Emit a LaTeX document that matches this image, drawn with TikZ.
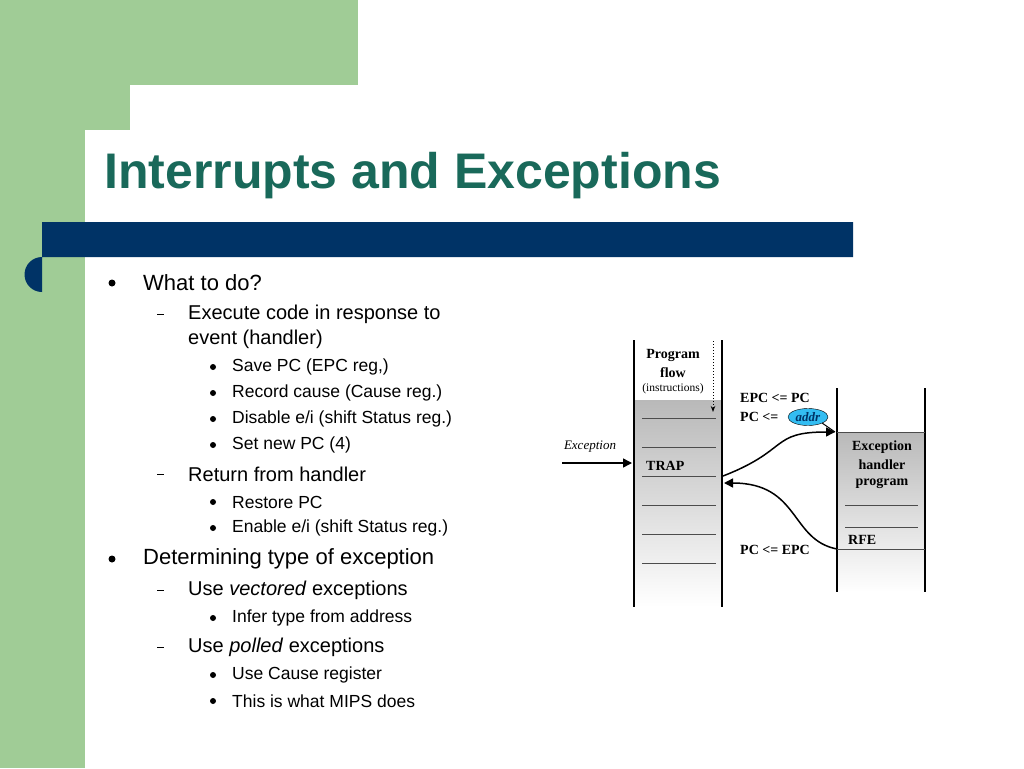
\documentclass[tikz,border=0pt]{standalone}
\usepackage{fontspec}
\setmainfont{Liberation Sans}
\newfontfamily\diag{Liberation Serif}
\usetikzlibrary{arrows.meta,shapes.geometric}
\definecolor{grn}{RGB}{160,204,150}
\definecolor{ttl}{RGB}{25,105,90}
\definecolor{bar}{RGB}{0,51,102}
\begin{document}
\begin{tikzpicture}[x=1pt,y=-1pt,
 l1/.style={anchor=west,font=\fontsize{22}{24}\selectfont,inner sep=0},
 l2/.style={anchor=west,font=\fontsize{20}{22}\selectfont,inner sep=0},
 l3/.style={anchor=west,font=\fontsize{17.5}{20}\selectfont,inner sep=0},
 dg/.style={font=\diag\bfseries\fontsize{14}{15}\selectfont,inner sep=0},
 hl/.style={line width=0.8pt,gray!60!black},
 col/.style={line width=1.5pt},
 arr/.style={line width=1.5pt,-{Triangle[length=9pt,width=9pt]}}]
\useasboundingbox (0,0) rectangle (1024,768);
\fill[white] (0,0) rectangle (1024,768);
\fill[grn] (0,0) rectangle (358,85);
\fill[grn] (0,0) rectangle (85,768);
\fill[grn] (85,85) rectangle (130,130);
\fill[white] (85,130) arc[start angle=180,end angle=90,radius=45] -- (130,130) -- cycle;
\fill[white] (85,130) rectangle (130,768);
\node[anchor=base west,inner sep=0,text=ttl,font=\bfseries\fontsize{50}{52}\selectfont] (title) at (104,188) {Interrupts and Exceptions};
\fill[bar] (42,222) -- (853,222) -- (853,257) -- (42,257) arc[start angle=270,end angle=90,radius=17.5] -- cycle;
% bullets
\foreach \y in {283,559} \fill (112,\y) circle (3.5);
\foreach \y in {314,474,590,647} \draw[line width=0.6pt] (157,\y) -- (164,\y);
\foreach \y in {367,393,419,445,502,528,618,675,701} \fill (213,\y) circle (3);
\node[l1] (a) at (143,283) {What to do?};
\node[l2] (b) at (188,314) {Execute code in response to};
\node[l2] (b2) at (188,339) {event (handler)};
\node[l3] (c1) at (232,367) {Save PC (EPC reg,)};
\node[l3] (c2) at (232,393) {Record cause (Cause reg.)};
\node[l3] (c3) at (232,419) {Disable e/i (shift Status reg.)};
\node[l3] (c4) at (232,445) {Set new PC (4)};
\node[l2] (d) at (188,474) {Return from handler};
\node[l3] (d1) at (232,502) {Restore PC};
\node[l3] (d2) at (232,528) {Enable e/i (shift Status reg.)};
\node[l1] (e) at (143,559) {Determining type of exception};
\node[l2] (f) at (188,590) {Use \textit{vectored} exceptions};
\node[l3] (f1) at (232,618) {Infer type from address};
\node[l2] (g) at (188,647) {Use \textit{polled} exceptions};
\node[l3] (g1) at (232,675) {Use Cause register};
\node[l3] (g2) at (232,701) {This is what MIPS does};
% diagram
\shade[top color=gray!55,bottom color=white] (634,400) rectangle (722,607);
\shade[top color=gray!55,bottom color=white] (837,432) rectangle (925,592);
\draw[col] (634,340) -- (634,607);
\draw[col] (722,340) -- (722,607);
\draw[col] (837,388) -- (837,592);
\draw[col] (925,388) -- (925,592);
\foreach \y in {418,447,476,505,534,563} \draw[hl] (642,\y) -- (716,\y);
\draw[hl] (837,432) -- (925,432);
\draw[hl] (837,549) -- (925,549);
\draw[hl] (845,505) -- (918,505);
\draw[hl] (845,527) -- (918,527);
\node[dg] (pf1) at (673,355) {Program};
\node[dg] (pf2) at (673,373) {flow};
\node[font=\diag\fontsize{11.5}{12}\selectfont,inner sep=0] (pf3) at (673,389) {(instructions)};
\coordinate (dt) at (713,341);
\coordinate (db) at (713,412);
\draw[line width=1pt,dotted,-{Stealth[length=6pt]}] (dt) -- (db);
\node[font=\diag\itshape\fontsize{13}{14}\selectfont,inner sep=0] (exc) at (590,447) {Exception};
\coordinate (es) at (562,463);
\coordinate (ee) at (632,463);
\draw[arr] (es) -- (ee);
\node[dg,anchor=west] (trap) at (646,466) {TRAP};
\node[dg,anchor=west] (epc) at (740,398) {EPC <= PC};
\node[dg,anchor=west] (pc) at (740,417) {PC <=};
\node[ellipse,draw=black,fill=cyan!80!white,inner sep=1pt,minimum width=40pt,minimum height=17pt,font=\diag\bfseries\itshape\fontsize{13}{14}\selectfont,text=bar] (addr) at (808,417) {addr};
\coordinate (h1) at (835,432);
\coordinate (t1) at (723,476);
\coordinate (t2) at (724,483);
\coordinate (r1) at (837,549);
\draw[line width=1pt] (addr.south east) -- (h1);
\draw[arr] (t1) .. controls (790,450) and (770,432) .. (h1);
\draw[arr] (r1) .. controls (790,540) and (800,483) .. (t2);
\node[dg,anchor=west] (pce) at (740,550) {PC <= EPC};
\node[dg] (eh1) at (882,447) {Exception};
\node[dg] (eh2) at (882,465) {handler};
\node[dg] (eh3) at (882,483) {program};
\node[dg,anchor=west] (rfe) at (848,540) {RFE};
\end{tikzpicture}
\end{document}
